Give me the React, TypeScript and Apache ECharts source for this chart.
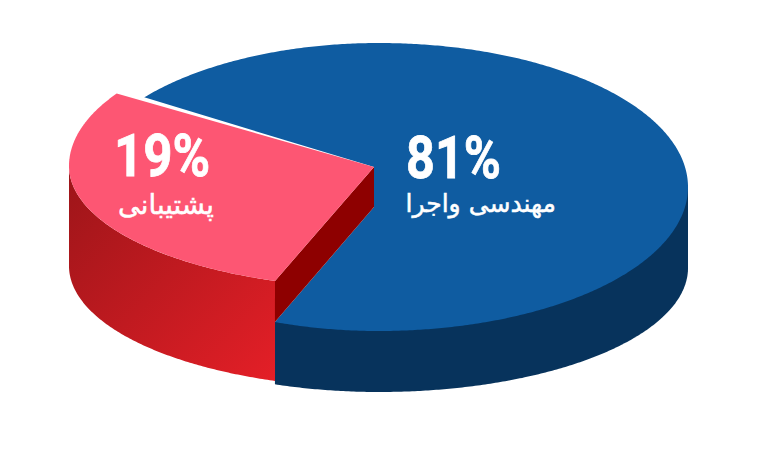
import React, { useEffect, useRef } from "react";
import * as echarts from "echarts";

const sliceNames = ["مهندسی واجرا", "پشتیبانی"];
const sliceShares = [81, 19];

const W = 757;
const H = 475;
const RAD = Math.PI / 180;
const SWEEP_STRETCH = 1.5; // the picture draws the small slice wider than its true share
const SLICE_END = 109.6;
const BLUE_END = 110.3;

type E = { cx: number; cy: number; rxL: number; rxR: number; ryU: number; ryD: number };
const blueTop: E = { cx: 379, cy: 187, rxL: 300, rxR: 309, ryU: 144, ryD: 144 };
const blueFloor: E = { cx: 379, cy: 268, rxL: 300, rxR: 309, ryU: 124, ryD: 124 };
const redTop: E = { cx: 379, cy: 166, rxL: 310, rxR: 310, ryU: 136, ryD: 122 };
const redFloor: E = { cx: 379, cy: 266, rxL: 310, rxR: 310, ryU: 122, ryD: 122 };

const pt = (e: E, deg: number): number[] => {
  const c = Math.cos(deg * RAD);
  const s = Math.sin(deg * RAD);
  return [e.cx + (c < 0 ? e.rxL : e.rxR) * c, e.cy + (s < 0 ? e.ryU : e.ryD) * s];
};
const arc = (e: E, a: number, b: number): number[][] => {
  const n = Math.max(2, Math.ceil(Math.abs(b - a) * 2));
  const out: number[][] = [];
  for (let i = 0; i <= n; i++) out.push(pt(e, a + ((b - a) * i) / n));
  return out;
};

const APEX = [374, 167];
const APEX_LOW = [374, 207];

const poly = (points: number[][], fill: any) => ({ type: "polygon", shape: { points }, style: { fill } });

const label = (
  x: number,
  y: number,
  text: string,
  size: number,
  weight: any,
  font: string,
  scaleX: number,
  align: string,
  strokeWidth: number
) => ({
  type: "text",
  x,
  y,
  scaleX,
  style: {
    text,
    fill: "#ffffff",
    stroke: "#ffffff",
    lineWidth: strokeWidth,
    fontSize: size,
    fontWeight: weight,
    fontFamily: font,
    align,
    verticalAlign: "middle",
  },
});

function renderSlice(params: any, api: any) {
  const i = params.dataIndex;
  const redShare = sliceShares[1];
  const sweep = redShare * 3.6 * SWEEP_STRETCH;
  const redStart = SLICE_END;
  const redEnd = SLICE_END + sweep;
  const pct = `${api.value(0)}%`;
  if (i === 0) {
    const blueFrom = redEnd + 6.3;
    const blueTo = 360 + BLUE_END;
    const floor = arc(blueFloor, 0, BLUE_END);
    return {
      type: "group",
      children: [
        poly([pt(blueTop, 0), ...floor, pt(blueTop, BLUE_END)], "#07335c"),
        poly([...arc(blueTop, blueFrom, blueTo), APEX_LOW, APEX], "#0f5ca1"),
        label(406, 158, pct, 60, 700, "Roboto", 0.84, "left", 0.8),
        label(556, 203, sliceNames[0], 25, 400, "'DejaVu Sans'", 1, "right", 0.5),
      ],
    };
  }
  const topArc = arc(redTop, redStart, redEnd);
  const floorArc = arc(redFloor, redStart, 180);
  return {
    type: "group",
    children: [
      poly(
        [...arc(redTop, redStart, 180), ...floorArc.slice().reverse()],
        new echarts.graphic.LinearGradient(0, 0, 1, 1, [
          { offset: 0, color: "#9c1519" },
          { offset: 1, color: "#e41f27" },
        ])
      ),
      poly([APEX, APEX_LOW, pt(blueTop, BLUE_END), topArc[0]], "#8e0000"),
      poly([APEX, ...topArc], "#fd5673"),
      label(114, 155.5, pct, 60, 700, "Roboto", 0.85, "left", 0.8),
      label(214, 204, sliceNames[1], 27.5, 400, "'DejaVu Sans'", 1, "right", 0.5),
    ],
  };
}

export default function App() {
  const ref = useRef<HTMLDivElement>(null);
  useEffect(() => {
    document.body.style.margin = "0";
    const chart = echarts.init(ref.current!, undefined, { renderer: "svg" });
    chart.setOption({
      animation: false,
      backgroundColor: "#ffffff",
      series: [
        {
          type: "custom",
          coordinateSystem: "none",
          silent: true,
          data: sliceShares.map((v) => [v]),
          renderItem: renderSlice,
        },
      ],
    });
    return () => chart.dispose();
  }, []);
  return <div ref={ref} style={{ width: W, height: H }} />;
}
